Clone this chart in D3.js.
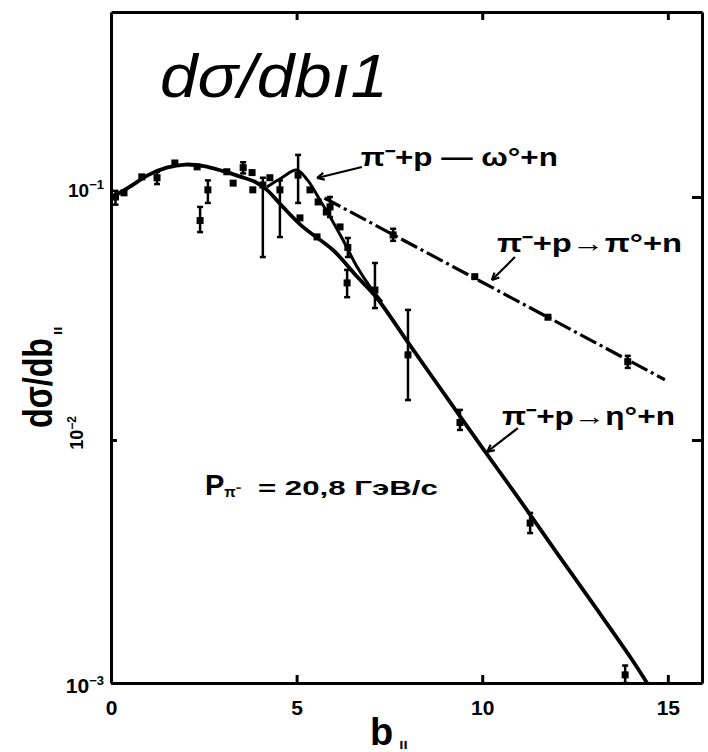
<!DOCTYPE html>
<html><head><meta charset="utf-8">
<script src="https://cdn.jsdelivr.net/npm/d3@7"></script>
<style>body{margin:0;background:#fff}svg{display:block}</style>
</head><body>
<svg id="chart" width="708" height="752"></svg>
<script>
// ---------- data ----------
const xTickValues = [0, 5, 10, 15];
const xTickLabels = ["0", "5", "10", "15"];
const yTickValues = [0.001, 0.01, 0.1];
const yTickExponents = ["\u22123", "\u22122", "\u22121"];

// fitted curve through low-b data and the eta0 channel (solid)
const etaCurveB = [0, 0.5, 1.0, 1.5, 2.0, 2.5, 3.0, 3.5, 3.9, 4.2, 4.63, 5.17, 5.98, 6.6, 7.16, 8.0, 9.0, 10.0, 11.0, 12.0, 13.0, 14.0, 14.44];
const etaCurveV = [0.099, 0.110, 0.123, 0.132, 0.136, 0.134, 0.128, 0.121, 0.115, 0.107, 0.091, 0.0753, 0.0605, 0.0475, 0.0384, 0.0252, 0.0153, 0.0093, 0.0057, 0.00345, 0.0021, 0.00127, 0.001];

// omega0 branch (solid)
const omegaCurveB = [4.2, 4.6, 5.0, 5.3, 5.63, 5.9, 6.25, 6.63, 6.98, 7.3];
const omegaCurveV = [0.110, 0.120, 0.129, 0.117, 0.097, 0.083, 0.0665, 0.0515, 0.0427, 0.0370];

// pi0 channel (dash-dot)
const pi0CurveB = [5.75, 14.92];
const pi0CurveV = [0.099, 0.0177];

// measured points: b, value, low, high (null = no bar)
const lowBPoints = [
  [0.12, 0.100, 0.093, 0.106], [0.35, 0.104, null, null], [0.83, 0.121, null, null],
  [1.24, 0.120, 0.113, 0.127], [1.72, 0.138, null, null], [2.32, 0.133, null, null],
  [2.40, 0.080, 0.0717, 0.091], [2.61, 0.107, 0.0945, 0.117], [3.12, 0.127, null, null],
  [3.29, 0.114, null, null], [3.56, 0.132, 0.125, 0.139], [3.80, 0.126, null, null],
  [3.82, 0.107, null, null], [4.09, 0.112, 0.0566, 0.120], [4.28, 0.120, null, null],
  [4.55, 0.107, 0.0684, 0.117], [5.04, 0.123, 0.0945, 0.149]
];
const omegaPoints = [
  [5.36, 0.107, null, null], [5.58, 0.0954, null, null], [5.80, 0.0867, null, null],
  [6.17, 0.0753, null, null], [6.38, 0.062, 0.0566, 0.0678]
];
const etaPoints = [
  [5.09, 0.082, null, null], [5.55, 0.0685, null, null], [6.36, 0.0443, 0.0387, 0.0501],
  [7.11, 0.0414, 0.0349, 0.0535], [8.0, 0.0224, 0.0146, 0.0343], [9.40, 0.0118, 0.0110, 0.0133],
  [11.29, 0.00455, 0.00414, 0.00501], [13.85, 0.00108, 0.001, 0.00118]
];
const pi0Points = [
  [5.9, 0.091, 0.0827, 0.100], [7.6, 0.0698, 0.066, 0.074], [9.8, 0.047, null, null],
  [11.77, 0.032, null, null], [13.92, 0.021, 0.0198, 0.0222]
];

// annotation texts and anchors (data coordinates)
const labelTexts = ["\u03c0\u207b+p \u2014 \u03c9\u00b0+n", "\u03c0\u207b+p\u2192\u03c0\u00b0+n", "\u03c0\u207b+p\u2192\u03b7\u00b0+n"];
const labelAnchors = [[6.73, 0.134], [10.40, 0.0594], [10.53, 0.01153]];
const pointerStarts = [[6.76, 0.1328], [10.88, 0.0566], [10.96, 0.01119]];
const pointerEnds = [[5.55, 0.1197], [10.26, 0.0455], [10.13, 0.00893]];
const momentumAnchor = [2.53, 0.00594];

// ---------- drawing ----------
const svg = d3.select("#chart");
const x = d3.scaleLinear().domain([0, 15.92]).range([111, 702]);
const y = d3.scaleLog().domain([0.001, 0.577]).range([683, 12]);
const FONT = "'Liberation Sans', Arial, sans-serif";

function styleAxis(g) {
  g.selectAll("path.domain").attr("stroke", "#000").attr("stroke-width", 3);
  g.selectAll(".tick line").attr("stroke", "#000").attr("stroke-width", 3);
}

// frame with axes
const gBottom = svg.append("g").attr("transform", "translate(0,683)")
  .call(d3.axisBottom(x).tickValues(xTickValues).tickSize(-8).tickSizeOuter(0).tickPadding(17)
    .tickFormat((d, i) => xTickLabels[i]));
styleAxis(gBottom);
gBottom.selectAll("text").attr("font-family", FONT).attr("font-weight", "bold").attr("font-size", 21).attr("fill", "#000");

const gTop = svg.append("g").attr("transform", "translate(0,12)")
  .call(d3.axisTop(x).tickValues(xTickValues.slice(1)).tickSize(-8).tickSizeOuter(0).tickFormat(""));
styleAxis(gTop);

const gLeft = svg.append("g").attr("transform", "translate(111,0)")
  .call(d3.axisLeft(y).tickValues(yTickValues).tickSize(-6).tickSizeOuter(0).tickFormat(""));
styleAxis(gLeft);

const gRight = svg.append("g").attr("transform", "translate(702,0)")
  .call(d3.axisRight(y).tickValues(yTickValues.slice(1)).tickSize(-10).tickSizeOuter(0).tickFormat(""));
styleAxis(gRight);

// y tick labels (powers of ten)
yTickValues.forEach((v, i) => {
  const py = y(v);
  if (i === 1) {
    const t = svg.append("text").attr("transform", `translate(83,${py - 7}) rotate(-90)`)
      .attr("text-anchor", "middle").attr("font-family", FONT).attr("font-weight", "bold").attr("font-size", 18);
    t.append("tspan").text("10");
    t.append("tspan").attr("font-size", 12).attr("dy", -7).text(yTickExponents[i]);
  } else {
    const big = i === 0 ? 21 : 19;
    const t = svg.append("text").attr("x", 104).attr("y", py + (i === 0 ? 10 : 0))
      .attr("text-anchor", "end").attr("font-family", FONT).attr("font-weight", "bold").attr("font-size", big);
    t.append("tspan").text("10");
    t.append("tspan").attr("font-size", 13).attr("dy", -8).text(yTickExponents[i]);
  }
});

// axis titles
const xt = svg.append("text").attr("x", 370).attr("y", 745).attr("font-family", FONT).attr("font-weight", "bold").attr("font-size", 38);
xt.append("tspan").text("b");
xt.append("tspan").attr("font-size", 15).attr("dx", 6).attr("dy", 4).text("\u0131\u0131");

const yt = svg.append("text").attr("transform", "translate(52,428) rotate(-90)")
  .attr("font-family", FONT).attr("font-weight", "bold").attr("font-size", 40);
yt.append("tspan").attr("textLength", 90).attr("lengthAdjust", "spacingAndGlyphs").text("d\u03c3/db");
yt.append("tspan").attr("font-size", 15).attr("dx", 3).attr("dy", 10).text("\u0131\u0131");

// title
svg.append("text").attr("x", 160).attr("y", 97).attr("font-family", FONT).attr("font-style", "italic")
  .attr("font-size", 61).attr("textLength", 228).attr("lengthAdjust", "spacingAndGlyphs").text("d\u03c3/db\u01311");

// curves
const line = d3.line().x(d => x(d[0])).y(d => y(d[1]));
const smooth = d3.line().x(d => x(d[0])).y(d => y(d[1])).curve(d3.curveCatmullRom.alpha(0.5));
svg.append("path").attr("d", smooth(etaCurveB.map((b, i) => [b, etaCurveV[i]])))
  .attr("fill", "none").attr("stroke", "#000").attr("stroke-width", 3.8);
svg.append("path").attr("d", smooth(omegaCurveB.map((b, i) => [b, omegaCurveV[i]])))
  .attr("fill", "none").attr("stroke", "#000").attr("stroke-width", 3);
svg.append("path").attr("d", line(pi0CurveB.map((b, i) => [b, pi0CurveV[i]])))
  .attr("fill", "none").attr("stroke", "#000").attr("stroke-width", 3.2).attr("stroke-dasharray", "18,4,3,4");

// points with error bars
function drawPoints(data) {
  const g = svg.append("g");
  data.forEach(([b, v, lo, hi]) => {
    const px = x(b);
    if (lo !== null) {
      g.append("line").attr("x1", px).attr("x2", px).attr("y1", y(lo)).attr("y2", y(hi))
        .attr("stroke", "#000").attr("stroke-width", 2.5);
      [lo, hi].forEach(e => g.append("line").attr("x1", px - 3).attr("x2", px + 3).attr("y1", y(e)).attr("y2", y(e))
        .attr("stroke", "#000").attr("stroke-width", 2.5));
    }
    g.append("rect").attr("x", px - 3.5).attr("y", y(v) - 3.5).attr("width", 7).attr("height", 7).attr("fill", "#000");
  });
}
drawPoints(lowBPoints);
drawPoints(omegaPoints);
drawPoints(etaPoints);
drawPoints(pi0Points);

// annotations
labelTexts.forEach((txt, i) => {
  const widths = [197, 185, 173];
  svg.append("text").attr("x", x(labelAnchors[i][0])).attr("y", y(labelAnchors[i][1]))
    .attr("font-family", FONT).attr("font-weight", "bold").attr("font-size", 25)
    .attr("textLength", widths[i]).attr("lengthAdjust", "spacingAndGlyphs").text(txt);
  const s = pointerStarts[i], e = pointerEnds[i];
  svg.append("line").attr("x1", x(s[0])).attr("y1", y(s[1])).attr("x2", x(e[0])).attr("y2", y(e[1]))
    .attr("stroke", "#000").attr("stroke-width", 2.2);
  const ang = Math.atan2(y(e[1]) - y(s[1]), x(e[0]) - x(s[0]));
  const ex = x(e[0]), ey = y(e[1]);
  const hl = 8, hw = 0.45;
  svg.append("path").attr("d", `M${ex},${ey}L${ex - hl * Math.cos(ang - hw)},${ey - hl * Math.sin(ang - hw)}M${ex},${ey}L${ex - hl * Math.cos(ang + hw)},${ey - hl * Math.sin(ang + hw)}`)
    .attr("stroke", "#000").attr("stroke-width", 2.2).attr("fill", "none");
});

// momentum label
const mx = x(momentumAnchor[0]), my = y(momentumAnchor[1]);
const mt = svg.append("text").attr("x", mx).attr("y", my).attr("font-family", FONT).attr("font-weight", "bold").attr("font-size", 29);
mt.append("tspan").text("P");
mt.append("tspan").attr("font-size", 15).attr("dy", 2).text("\u03c0\u207b");
svg.append("text").attr("x", mx + 53).attr("y", my).attr("font-family", FONT).attr("font-weight", "bold").attr("font-size", 21)
  .attr("textLength", 180).attr("lengthAdjust", "spacingAndGlyphs").text("= 20,8 \u0413\u044d\u0412/\u0441");
</script>
</body></html>
